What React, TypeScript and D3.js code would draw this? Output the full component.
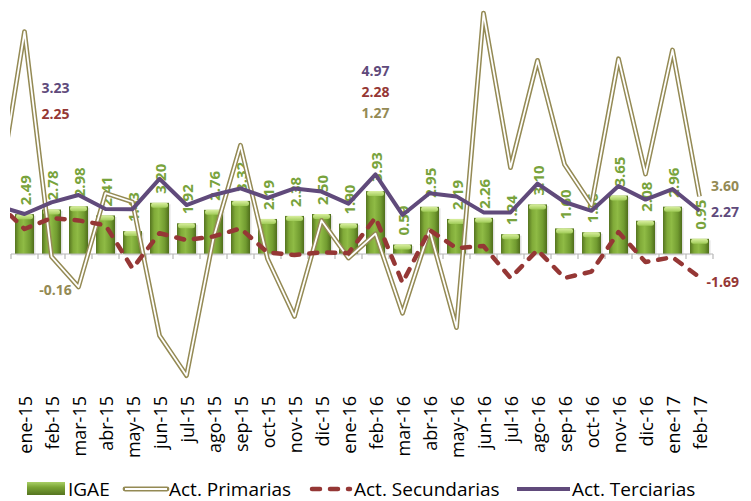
import React from "react";
import * as d3 from "d3";

const categories = ["ene-15","feb-15","mar-15","abr-15","may-15","jun-15","jul-15","ago-15","sep-15","oct-15","nov-15","dic-15","ene-16","feb-16","mar-16","abr-16","may-16","jun-16","jul-16","ago-16","sep-16","oct-16","nov-16","dic-16","ene-17","feb-17"];
const igae = [2.49,2.78,2.98,2.41,1.43,3.20,1.92,2.76,3.32,2.19,2.38,2.50,1.90,3.93,0.59,2.95,2.19,2.26,1.24,3.10,1.60,1.36,3.65,2.08,2.96,0.95];
const igaeLabels = ["2.49","2.78","2.98","2.41","1.43","3.20","1.92","2.76","3.32","2.19","2.38","2.50","1.90","3.93","0.59","2.95","2.19","2.26","1.24","3.10","1.60","1.36","3.65","2.08","2.96","0.95"];
const primarias = [13.9,-0.16,-2.06,3.8,3.25,-5.1,-7.6,1.0,6.8,-0.3,-3.9,2.1,-0.25,1.27,-3.7,1.5,-4.6,15.06,5.4,12.1,5.6,3.06,12.2,5.0,12.75,3.60];
const secundarias = [1.56,2.25,2.1,1.8,-0.9,1.3,0.87,1.1,1.6,0.1,-0.06,0.1,0.05,2.28,-1.8,1.5,0.37,0.5,-1.5,0.25,-1.5,-1.1,1.37,-0.5,-0.2,-1.45];
const terciarias = [2.5,3.23,3.69,2.81,2.8,4.7,3.06,3.69,4.1,3.5,4.1,3.9,3.15,4.97,2.44,3.8,3.6,2.6,2.6,4.4,3.25,2.7,4.25,3.4,4.06,2.7];
// previous month (dic-14), cut off at the left edge of the plot
const prevPrimarias = 3.3;
const prevSecundarias = 3.2;
const prevTerciarias = 3.0;

const annotFeb15 = { ter: "3.23", sec: "2.25", prim: "-0.16" };
const annotFeb16 = { ter: "4.97", sec: "2.28", prim: "1.27" };
const annotFeb17 = { prim: "3.60", ter: "2.27", sec: "-1.69" };

const legendItems = ["IGAE", "Act. Primarias", "Act. Secundarias", "Act. Terciarias"];

const C_OLIVE = "#948A54";
const C_RED = "#953735";
const C_PURPLE = "#604A7B";
const C_GREEN_LBL = "#78a33c";
const FONT = "'Open Sans', 'DejaVu Sans', sans-serif";

export default function App() {
  const W = 751, H = 501;
  const x = d3.scaleBand<string>().domain(categories).range([11, 713]).paddingInner(0).paddingOuter(0);
  const y = d3.scaleLinear().domain([-8, 16]).range([382, -2]);
  const bw = x.bandwidth();
  const cx = (i: number) => (x(categories[i]) as number) + bw / 2;
  const barW = 19;
  const y0 = y(0);

  const linePts = (vals: number[], prev: number): [number, number][] => {
    const pts: [number, number][] = [[cx(0) - bw, y(prev)]];
    vals.forEach((v, i) => pts.push([cx(i), y(v)]));
    return pts;
  };
  const lineGen = d3.line<[number, number]>().x(d => d[0]).y(d => d[1]);

  const iF15 = categories.indexOf("feb-15");
  const iF16 = categories.indexOf("feb-16");

  const ticks = d3.range(categories.length + 1).map(i => 11 + i * bw);

  const legX = { sw: [27, 125, 312, 517], swW: [38, 42, 38, 53], tx: [68, 169, 354, 572] };
  const legY = 489;

  return (
    <svg width={W} height={H} style={{ position: "absolute", left: 0, top: 0, background: "#fff" }} fontFamily={FONT}>
      <defs>
        <linearGradient id="barG" x1="0" y1="0" x2="1" y2="0">
          <stop offset="0%" stopColor="#557420" />
          <stop offset="22%" stopColor="#80aa38" />
          <stop offset="45%" stopColor="#8fbb45" />
          <stop offset="78%" stopColor="#719b30" />
          <stop offset="100%" stopColor="#4f6d1b" />
        </linearGradient>
        <linearGradient id="capG" x1="0" y1="0" x2="0" y2="1">
          <stop offset="0%" stopColor="#d9ef9f" />
          <stop offset="100%" stopColor="#a0cb58" />
        </linearGradient>
        <linearGradient id="legG" x1="0" y1="0" x2="0" y2="1">
          <stop offset="0%" stopColor="#a9cf66" />
          <stop offset="40%" stopColor="#7aa435" />
          <stop offset="100%" stopColor="#557420" />
        </linearGradient>
        <clipPath id="plotClip">
          <rect x={10} y={0} width={720} height={390} />
        </clipPath>
      </defs>

      {/* bars */}
      <g>
        {igae.map((v, i) => {
          const top = y(v);
          const h = y0 - top;
          return (
            <g key={i}>
              <rect x={cx(i) - barW / 2 + 1.5} y={top + 1.5} width={barW} height={h} fill="#000" opacity={0.12} />
              <rect x={cx(i) - barW / 2} y={top} width={barW} height={h} fill="url(#barG)" />
              <rect x={cx(i) - barW / 2 + 1} y={top} width={barW - 2} height={Math.min(5, h)} rx={2.5} fill="url(#capG)" />
            </g>
          );
        })}
      </g>

      {/* axis */}
      <line x1={11} x2={713} y1={y0} y2={y0} stroke="#b8b8b8" strokeWidth={1.2} />
      {ticks.map((t, i) => (
        <line key={i} x1={t} x2={t} y1={y0} y2={y0 + 5} stroke="#b8b8b8" strokeWidth={1.2} />
      ))}

      {/* bar labels */}
      {igae.map((v, i) => (
        <text key={i} transform={`translate(${cx(i) + 1},${y(v) - 9}) rotate(-90)`} dy="0.36em"
          fontSize={15} fontWeight={700} fill={C_GREEN_LBL} textAnchor="start">{igaeLabels[i]}</text>
      ))}

      {/* lines */}
      <g clipPath="url(#plotClip)" fill="none">
        <path d={lineGen(linePts(primarias, prevPrimarias)) || ""} stroke={C_OLIVE} strokeWidth={4.8} strokeLinejoin="round" />
        <path d={lineGen(linePts(primarias, prevPrimarias)) || ""} stroke="#fff" strokeWidth={1.8} strokeLinejoin="round" />
        <path d={lineGen(linePts(secundarias, prevSecundarias)) || ""} stroke={C_RED} strokeWidth={4.5} strokeDasharray="8 10" strokeLinecap="round" strokeLinejoin="round" />
        <path d={lineGen(linePts(terciarias, prevTerciarias)) || ""} stroke={C_PURPLE} strokeWidth={4} strokeLinejoin="round" />
      </g>

      {/* annotations */}
      <g fontSize={14} fontWeight={700} textAnchor="middle">
        <text x={cx(iF15) + 4} y={93} fill={C_PURPLE}>{annotFeb15.ter}</text>
        <text x={cx(iF15) + 4} y={119} fill={C_RED}>{annotFeb15.sec}</text>
        <text x={cx(iF15) + 4} y={y(primarias[iF15]) + 38} fill={C_OLIVE}>{annotFeb15.prim}</text>
        <text x={cx(iF16)} y={76} fill={C_PURPLE}>{annotFeb16.ter}</text>
        <text x={cx(iF16)} y={97} fill={C_RED}>{annotFeb16.sec}</text>
        <text x={cx(iF16)} y={118} fill={C_OLIVE}>{annotFeb16.prim}</text>
      </g>
      <g fontSize={14} fontWeight={700} textAnchor="end">
        <text x={739} y={191} fill={C_OLIVE}>{annotFeb17.prim}</text>
        <text x={739} y={217} fill={C_PURPLE}>{annotFeb17.ter}</text>
        <text x={739} y={287} fill={C_RED}>{annotFeb17.sec}</text>
      </g>

      {/* x labels */}
      {categories.map((c, i) => (
        <text key={c} transform={`translate(${cx(i) + 1},396) rotate(-90)`} dy="0.35em" textAnchor="end"
          fontSize={18} fill="#000">{c}</text>
      ))}

      {/* legend */}
      <g fontSize={19} fill="#000">
        <rect x={legX.sw[0]} y={legY - 7} width={legX.swW[0]} height={13} fill="url(#legG)" />
        <text x={legX.tx[0]} y={legY} dy="0.35em">{legendItems[0]}</text>
        <line x1={legX.sw[1]} x2={legX.sw[1] + legX.swW[1]} y1={legY} y2={legY} stroke={C_OLIVE} strokeWidth={4.8} strokeLinecap="round" />
        <line x1={legX.sw[1]} x2={legX.sw[1] + legX.swW[1]} y1={legY} y2={legY} stroke="#fff" strokeWidth={1.8} />
        <text x={legX.tx[1]} y={legY} dy="0.35em">{legendItems[1]}</text>
        <line x1={legX.sw[2]} x2={legX.sw[2] + legX.swW[2]} y1={legY} y2={legY} stroke={C_RED} strokeWidth={4.5} strokeDasharray="8 10" strokeLinecap="round" />
        <text x={legX.tx[2]} y={legY} dy="0.35em">{legendItems[2]}</text>
        <line x1={legX.sw[3]} x2={legX.sw[3] + legX.swW[3]} y1={legY} y2={legY} stroke={C_PURPLE} strokeWidth={4} />
        <text x={legX.tx[3]} y={legY} dy="0.35em">{legendItems[3]}</text>
      </g>
    </svg>
  );
}
